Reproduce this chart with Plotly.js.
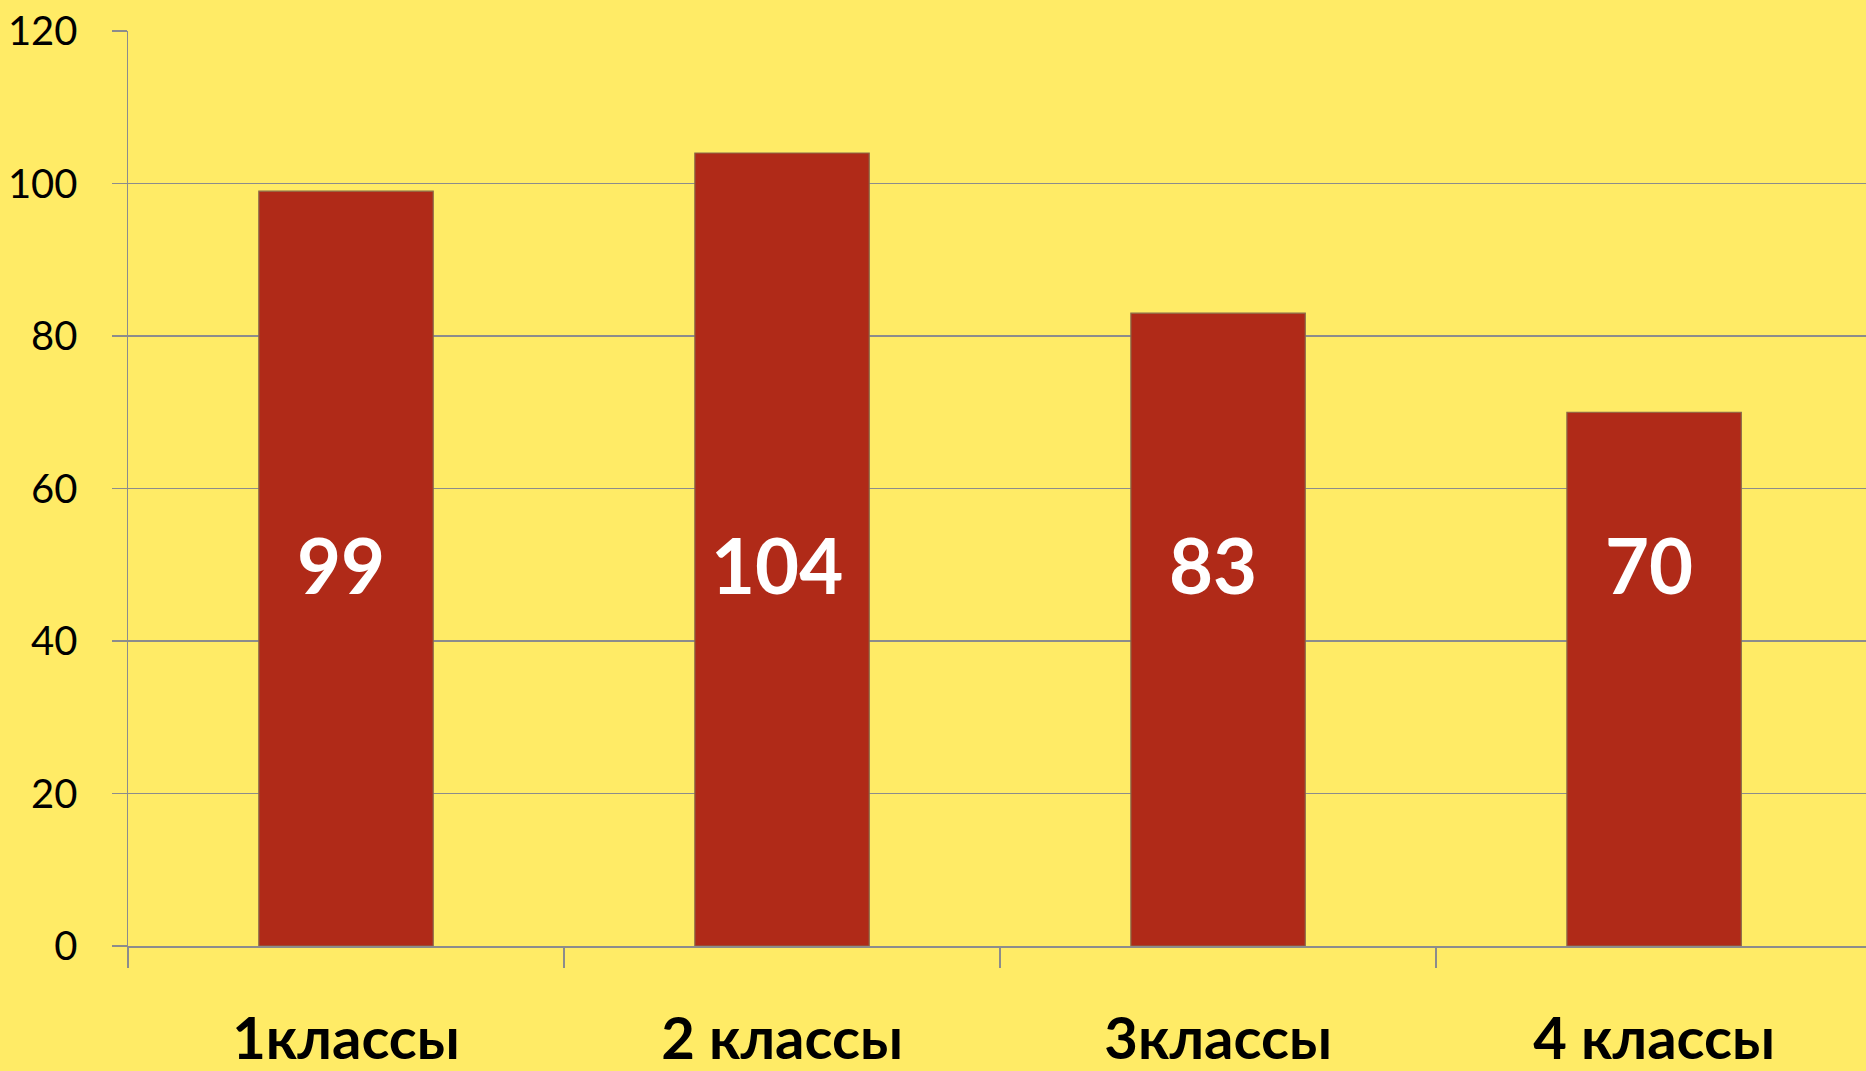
<!DOCTYPE html>
<html>
<head>
<meta charset="utf-8">
<script src="https://cdn.plot.ly/plotly-3.0.1.min.js"></script>
<style>html,body{margin:0;padding:0;background:#FFEB66;}#chart{width:1866px;height:1071px;}</style>
</head>
<body>
<div id="chart"></div>
<script>
const categories = ["1классы", "2 классы", "3классы", "4 классы"];
const values = [99, 104, 83, 70];
const yTicks = [0, 20, 40, 60, 80, 100, 120];
const labelLevel = 50;

const bg = "#FFEB66";
const barColor = "#B02A18";
const gridColor = "#8C8C8C";

const trace = {
  type: "bar",
  x: categories,
  y: values,
  marker: { color: barColor, line: { color: "#8A6A4A", width: 1.2 } },
  hoverinfo: "skip",
  showlegend: false
};

const annotations = categories.map((c, i) => ({
  x: c, y: labelLevel, xref: "x", yref: "y",
  text: String(values[i]), showarrow: false,
  xshift: -5,
  font: { family: "Lato, 'Open Sans', sans-serif", size: 76, color: "#FFFFFF", weight: "bold" }
}));

const layout = {
  width: 1866, height: 1071,
  paper_bgcolor: bg, plot_bgcolor: bg,
  margin: { l: 128, r: 0, t: 31, b: 125 },
  bargap: 0.6,
  xaxis: {
    type: "category",
    range: [-0.5, 3.486],
    tickson: "boundaries",
    ticks: "outside", ticklen: 20, tickwidth: 1.5, tickcolor: gridColor,
    showline: true, linecolor: gridColor, linewidth: 1.5,
    showgrid: false, zeroline: false,
    tickfont: { family: "Lato, 'Open Sans', sans-serif", size: 58, color: "#000000", weight: "bold" },
    ticklabelstandoff: 42
  },
  yaxis: {
    range: [0, 120],
    tickvals: yTicks,
    ticks: "outside", ticklen: 15, tickwidth: 1.5, tickcolor: gridColor,
    showline: true, linecolor: gridColor, linewidth: 1.5,
    showgrid: true, gridcolor: gridColor, gridwidth: 1.5,
    zeroline: false,
    tickfont: { family: "Lato, 'Open Sans', sans-serif", size: 40, color: "#000000" },
    ticklabelstandoff: 26
  },
  annotations: annotations
};

Plotly.newPlot("chart", [trace], layout, { staticPlot: true, displayModeBar: false });
</script>
</body>
</html>
